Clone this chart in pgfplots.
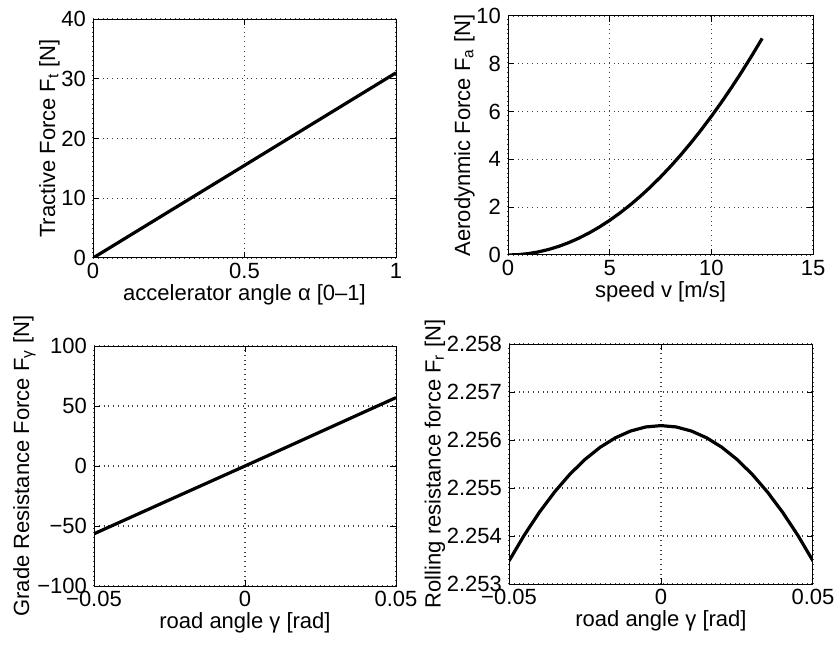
\documentclass[border=0pt]{standalone}
\usepackage{fontspec}
\setmainfont{Liberation Sans}
\usepackage{pgfplots}
\pgfplotsset{compat=1.18}
\pgfplotsset{mat/.style={
  scale only axis, anchor=south west,
  axis line style={line width=0.5pt},
  tick align=inside, major tick length=3pt,
  tick style={black, line width=0.5pt},
  grid=major, grid style={dotted, line width=0.55pt, black!75},
  every tick label/.append style={font=\fontsize{11}{12}\selectfont},
  label style={font=\fontsize{11}{12}\selectfont},
  /pgf/number format/assume math mode=true,
  scaled x ticks=false, scaled y ticks=false,
  xticklabel style={yshift=1pt},
  xlabel style={yshift=4pt},
  ylabel style={yshift=-6pt},
  cycle list={{black, no markers}},
  every axis plot/.append style={line width=1.6pt},
}}
\begin{document}
\begin{tikzpicture}
\path[use as bounding box] (0,0) rectangle (420pt,324pt);
% top left
\begin{axis}[mat, at={(46.5pt,195pt)}, width=151.5pt, height=119.5pt,
  xmin=0, xmax=1, ymin=0, ymax=40,
  xtick={0,0.5,1}, xticklabels={0,0.5,1},
  ytick={0,10,20,30,40}, yticklabels={0,10,20,30,40},
  xlabel={accelerator angle α [0–1]},
  ylabel={Tractive Force F\textsubscript{t} [N]}]
\addplot coordinates {(0,0) (0.5,15.5) (1,31)};
\end{axis}
% top right
\begin{axis}[mat, at={(254pt,196.5pt)}, width=152.5pt, height=119.5pt,
  xmin=0, xmax=15, ymin=0, ymax=10,
  xtick={0,5,10,15}, xticklabels={0,5,10,15},
  ytick={0,2,4,6,8,10}, yticklabels={0,2,4,6,8,10},
  xlabel={speed v [m/s]},
  ylabel={Aerodynmic Force F\textsubscript{a} [N]}]
\addplot coordinates {(0,0) (0.5,0.0145) (1,0.058) (1.5,0.1305) (2,0.232) (2.5,0.3625) (3,0.522) (3.5,0.7105) (4,0.928) (4.5,1.1745) (5,1.45) (5.5,1.7545) (6,2.088) (6.5,2.4505) (7,2.842) (7.5,3.2625) (8,3.712) (8.5,4.1905) (9,4.698) (9.5,5.2345) (10,5.8) (10.5,6.3945) (11,7.018) (11.5,7.6705) (12,8.352) (12.5,9.0625)};
\end{axis}
% bottom left
\begin{axis}[mat, at={(47pt,31pt)}, width=151pt, height=120pt,
  xmin=-0.05, xmax=0.05, ymin=-100, ymax=100,
  xtick={-0.05,0,0.05}, xticklabels={−0.05,0,0.05},
  ytick={-100,-50,0,50,100}, yticklabels={−100,−50,0,50,100},
  xlabel={road angle γ [rad]},
  ylabel={Grade Resistance Force F\textsubscript{γ} [N]}]
\addplot coordinates {(-0.05,-56.5) (-0.025,-28.2) (0,0) (0.025,28.5) (0.05,57)};
\end{axis}
% bottom right
\begin{axis}[mat, at={(254.5pt,32pt)}, width=152pt, height=120pt,
  xmin=-0.05, xmax=0.05, ymin=2.253, ymax=2.258,
  xtick={-0.05,0,0.05}, xticklabels={−0.05,0,0.05},
  ytick={2.253,2.254,2.255,2.256,2.257,2.258},
  yticklabels={2.253,2.254,2.255,2.256,2.257,2.258},
  xlabel={road angle γ [rad]},
  ylabel={Rolling resistance force F\textsubscript{r} [N]}]
\addplot coordinates {(-0.05,2.25348) (-0.045,2.254016) (-0.04,2.254495) (-0.035,2.254918) (-0.03,2.255285) (-0.025,2.255595) (-0.02,2.255849) (-0.015,2.256046) (-0.01,2.256187) (-0.005,2.256272) (0,2.2563) (0.005,2.256272) (0.01,2.256187) (0.015,2.256046) (0.02,2.255849) (0.025,2.255595) (0.03,2.255285) (0.035,2.254918) (0.04,2.254495) (0.045,2.254016) (0.05,2.25348)};
\end{axis}
\end{tikzpicture}
\end{document}
